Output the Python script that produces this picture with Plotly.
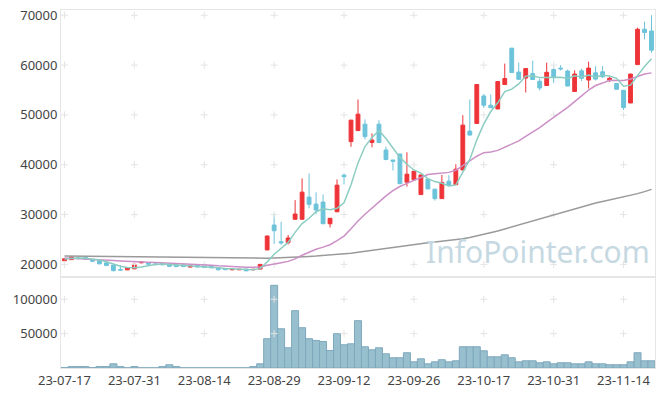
import plotly.graph_objects as go
from plotly.subplots import make_subplots

dates = [
    "23-07-17", "23-07-18", "23-07-19", "23-07-20", "23-07-21", "23-07-24", "23-07-25", "23-07-26", "23-07-27", "23-07-28",
    "23-07-31", "23-08-01", "23-08-02", "23-08-03", "23-08-04", "23-08-07", "23-08-08", "23-08-09", "23-08-10", "23-08-11",
    "23-08-14", "23-08-16", "23-08-17", "23-08-18", "23-08-21", "23-08-22", "23-08-23", "23-08-24", "23-08-25", "23-08-28",
    "23-08-29", "23-08-30", "23-08-31", "23-09-01", "23-09-04", "23-09-05", "23-09-06", "23-09-07", "23-09-08", "23-09-11",
    "23-09-12", "23-09-13", "23-09-14", "23-09-15", "23-09-18", "23-09-19", "23-09-20", "23-09-21", "23-09-22", "23-09-25",
    "23-09-26", "23-09-27", "23-10-04", "23-10-05", "23-10-06", "23-10-10", "23-10-11", "23-10-12", "23-10-13", "23-10-16",
    "23-10-17", "23-10-18", "23-10-19", "23-10-20", "23-10-23", "23-10-24", "23-10-25", "23-10-26", "23-10-27", "23-10-30",
    "23-10-31", "23-11-01", "23-11-02", "23-11-03", "23-11-06", "23-11-07", "23-11-08", "23-11-09", "23-11-10", "23-11-13",
    "23-11-14", "23-11-15", "23-11-16", "23-11-17", "23-11-20",
]

open_ = [20720, 20950, 21300, 21400, 20800, 20850, 20300, 19850, 18950, 18900,
         19100, 20300, 20250, 20100, 20200, 20050, 19900, 19900, 19450, 19850,
         19700, 19700, 19300, 19050, 18900, 18900, 19050, 18900, 19050, 22900,
         27900, 24550, 24350, 29050, 29050, 33500, 32100, 32500, 28150, 30550,
         37900, 44650, 46850, 48150, 44450, 48150, 42950, 40950, 42150, 36500,
         37000, 34000, 37100, 35100, 33200, 36700, 36000, 38950, 46750, 48300,
         53800, 51950, 51200, 56100, 63400, 58600, 57400, 58300, 56750, 55900,
         59100, 59400, 58800, 54700, 58850, 57000, 58450, 58650, 56950, 56300,
         54950, 52400, 60100, 67200, 66850]
high = [21200, 21550, 21400, 21450, 20900, 20900, 20350, 19900, 19850, 19350,
        20300, 20550, 20300, 20150, 20300, 20100, 19950, 19950, 19750, 19900,
        19750, 19750, 19350, 19100, 19050, 19050, 19100, 19050, 20050, 25750,
        30200, 28550, 25900, 32900, 37250, 38250, 34450, 34050, 29300, 37050,
        38250, 49000, 53100, 49100, 46300, 48950, 43650, 41000, 42200, 42500,
        38750, 38000, 37150, 35150, 37950, 37900, 40100, 49950, 53100, 56150,
        54200, 54100, 56750, 60300, 63450, 60500, 59350, 60900, 57300, 60500,
        60000, 60000, 59100, 58950, 59300, 60700, 59800, 59800, 57650, 56400,
        55000, 58250, 67500, 68700, 70000]
low = [20650, 20900, 21000, 20950, 20600, 20050, 19700, 18550, 18800, 18850,
       19050, 20250, 20000, 19900, 19850, 19450, 19500, 19500, 19400, 19400,
       19300, 19250, 18850, 18900, 18850, 18850, 18650, 18850, 19000, 22850,
       24100, 23950, 24000, 29000, 29000, 31250, 30050, 28100, 27400, 30500,
       36050, 43600, 46800, 45100, 43500, 44400, 40900, 38850, 36100, 35600,
       36950, 33950, 35100, 32800, 33150, 35800, 35950, 38900, 45900, 48250,
       51400, 51400, 51150, 56050, 58450, 57100, 54500, 57050, 54900, 55850,
       56400, 58900, 55700, 54650, 56800, 55300, 56900, 57400, 56600, 55100,
       51000, 52350, 60050, 65150, 62500]
close = [21120, 21500, 21200, 21000, 20650, 20100, 19750, 18750, 18850, 19300,
         20000, 20450, 20050, 19950, 19900, 19600, 19550, 19550, 19700, 19450,
         19350, 19300, 18900, 18950, 19000, 19000, 18700, 19000, 20000, 25700,
         26750, 24300, 25300, 30100, 34500, 32050, 30900, 28150, 29250, 35900,
         37600, 48950, 50150, 45650, 44950, 44450, 41050, 40700, 36200, 38100,
         38700, 37950, 35150, 33200, 36450, 35850, 39100, 47950, 45950, 56100,
         51950, 51450, 56700, 57300, 58500, 57150, 59300, 57100, 55400, 58550,
         57500, 59250, 55800, 58200, 57350, 59400, 57200, 57650, 57350, 55150,
         51500, 58200, 67200, 66550, 63000]
volume = [500, 2000, 2000, 2000, 500, 2000, 2000, 6100, 2000, 300,
          2000, 300, 300, 300, 2000, 4700, 2000, 300, 300, 300,
          300, 300, 300, 300, 300, 300, 300, 2000, 6100, 42600,
          120300, 57100, 29400, 83400, 58600, 42600, 40100, 38600, 25500, 49900,
          33800, 35200, 68800, 30900, 26500, 29400, 20700, 14900, 14900, 22200,
          9000, 13400, 6100, 9000, 12000, 9000, 10500, 30900, 30900, 30900,
          25100, 16300, 16300, 19200, 14900, 9000, 10500, 10500, 7600, 9000,
          6100, 7600, 7600, 6100, 6100, 9000, 6100, 6100, 4700, 4700,
          4700, 9000, 22200, 10500, 10500]
ma5 = [21100, 21250, 21300, 21250, 21094, 20890, 20540, 20050, 19620, 19350,
       19330, 19470, 19730, 19950, 20070, 19990, 19810, 19710, 19660, 19570,
       19520, 19470, 19340, 19190, 19100, 19030, 18910, 18930, 19140, 20480,
       22030, 23150, 24410, 26430, 28190, 29250, 30570, 31140, 30970, 31250,
       32360, 35970, 40370, 43650, 45460, 46830, 45250, 43360, 41470, 40100,
       38950, 38330, 37220, 36620, 36290, 35720, 35950, 38510, 41060, 44990,
       48210, 50680, 52430, 54700, 55180, 56220, 57790, 57870, 57490, 57500,
       57570, 57560, 57300, 57860, 57620, 58000, 57590, 57960, 57790, 57350,
       55770, 55970, 57880, 59720, 61290]
ma20 = [21300, 21250, 21200, 21150, 21100, 21000, 20900, 20800, 20700, 20600,
        20500, 20450, 20400, 20350, 20300, 20250, 20200, 20150, 20080, 20021,
        19933, 19823, 19708, 19605, 19523, 19468, 19415, 19428, 19485, 19805,
        20143, 20335, 20598, 21105, 21835, 22458, 23025, 23455, 23933, 24755,
        25668, 27150, 28713, 30048, 31345, 32618, 33735, 34820, 35630, 36250,
        36848, 37530, 38023, 38178, 38275, 38465, 38875, 39865, 40700, 41710,
        42428, 42553, 42880, 43463, 44140, 44775, 45688, 46508, 47468, 48490,
        49430, 50495, 51528, 52778, 53823, 55000, 55905, 56390, 56960, 56913,
        56890, 57228, 57753, 58215, 58440]
ma_long = [21700, 21680, 21660, 21640, 21620, 21600, 21580, 21560, 21540, 21520,
           21500, 21480, 21460, 21440, 21420, 21400, 21380, 21360, 21340, 21320,
           21300, 21280, 21260, 21250, 21240, 21230, 21220, 21210, 21210, 21250,
           21300, 21330, 21370, 21420, 21500, 21580, 21660, 21750, 21850, 21950,
           22060, 22250, 22450, 22650, 22850, 23050, 23250, 23450, 23620, 23800,
           23970, 24150, 24320, 24480, 24620, 24780, 24950, 25150, 25400, 25700,
           26000, 26350, 26700, 27100, 27500, 27900, 28300, 28700, 29100, 29500,
           29950, 30400, 30800, 31200, 31550, 31900, 32300, 32600, 32900, 33200,
           33500, 33800, 34200, 34600, 35050]

price_ticks = [20000, 30000, 40000, 50000, 60000, 70000]
vol_ticks = [50000, 100000]
x_ticks = dates[::10]

RED = "#ee3438"
BLUE = "#6cc3da"
FONT = dict(family="Noto Sans", size=13, color="#444444")
GRID = "#e4e4e4"
LINE = "#e6e6e6"

fig = make_subplots(rows=2, cols=1, shared_xaxes=True, vertical_spacing=0)

# grid crosses at tick intersections
gx = [x for x in x_ticks for _ in price_ticks]
gy = [y for _ in x_ticks for y in price_ticks]
fig.add_trace(go.Scatter(x=gx, y=gy, mode="markers", hoverinfo="skip",
                         marker=dict(symbol="cross-thin", size=5, line=dict(color=GRID, width=1))),
              row=1, col=1)
gx2 = [x for x in x_ticks for _ in vol_ticks]
gy2 = [y for _ in x_ticks for y in vol_ticks]
fig.add_trace(go.Scatter(x=gx2, y=gy2, mode="markers", hoverinfo="skip",
                         marker=dict(symbol="cross-thin", size=5, line=dict(color=GRID, width=1))),
              row=2, col=1)

fig.add_trace(go.Scatter(x=dates, y=ma_long, mode="lines", line=dict(color="#9a9a9a", width=1.5),
                         hoverinfo="skip"), row=1, col=1)
fig.add_trace(go.Scatter(x=dates, y=ma20, mode="lines", line=dict(color="#cc90c6", width=1.5),
                         hoverinfo="skip"), row=1, col=1)

fig.add_trace(go.Candlestick(
    x=dates, open=open_, high=high, low=low, close=close,
    increasing=dict(line=dict(color=RED, width=1), fillcolor=RED),
    decreasing=dict(line=dict(color=BLUE, width=1), fillcolor=BLUE),
    whiskerwidth=0, hoverinfo="skip"), row=1, col=1)

fig.add_trace(go.Scatter(x=dates, y=ma5, mode="lines", line=dict(color="#8ccdc2", width=1.5),
                         hoverinfo="skip"), row=1, col=1)

fig.add_trace(go.Bar(x=dates, y=volume, marker=dict(color="#98bfce", line=dict(color="#7ea8bc", width=1)),
                     hoverinfo="skip"), row=2, col=1)

fig.update_layout(
    width=665, height=396,
    margin=dict(l=61, r=10, t=10, b=28, autoexpand=False),
    paper_bgcolor="white", plot_bgcolor="white",
    showlegend=False, bargap=0, boxgap=0.22,
    font=FONT,
    annotations=[dict(text="InfoPointer.com", xref="paper", yref="paper", x=0.995, y=0.262,
                      xanchor="right", yanchor="bottom", showarrow=False,
                      font=dict(family="Noto Sans", size=30, color="#c6d9e2"))],
)
for r in (1, 2):
    fig.update_xaxes(type="category", categoryorder="array", categoryarray=dates,
                     range=[-0.5, len(dates) - 0.5], tickvals=x_ticks, ticktext=x_ticks,
                     showgrid=False, showline=True, mirror=True, linecolor=LINE, linewidth=1,
                     ticks="", tickfont=FONT, automargin=False, ticklabeloverflow="allow",
                     rangeslider=dict(visible=False), row=r, col=1)
fig.update_xaxes(showticklabels=False, row=1, col=1)
fig.update_yaxes(domain=[0.254, 1], range=[17450, 71060], tickvals=price_ticks,
                 ticktext=[str(v) for v in price_ticks], showgrid=False,
                 showline=True, mirror=True, linecolor=LINE, zeroline=False, ticks="",
                 tickfont=FONT, automargin=False, ticklabeloverflow="allow", row=1, col=1)
fig.update_yaxes(domain=[0, 0.254], range=[0, 132300], tickvals=vol_ticks,
                 ticktext=[str(v) for v in vol_ticks], showgrid=False,
                 showline=True, mirror=True, linecolor=LINE, zeroline=False, ticks="",
                 tickfont=FONT, automargin=False, ticklabeloverflow="allow", row=2, col=1)

# remove the default page margin so the figure fills the window exactly
fig.write_html("out.html", config={"displayModeBar": False, "staticPlot": True},
               post_script="document.body.style.margin='0px';")
